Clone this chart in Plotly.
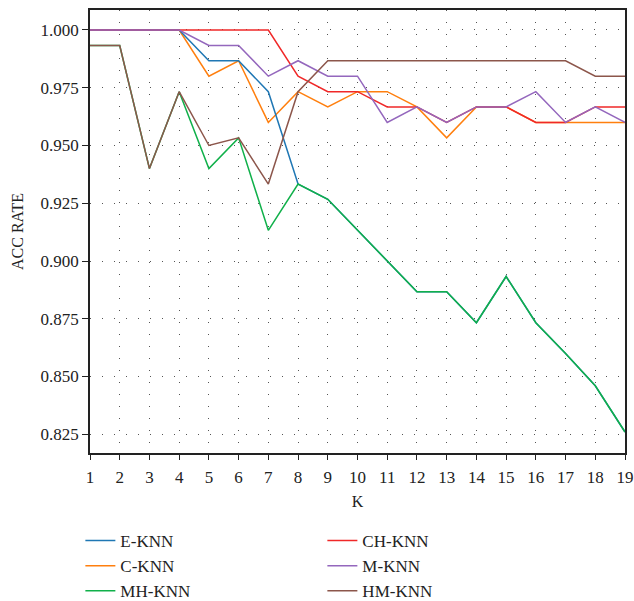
import plotly.graph_objects as go

# K values on the x axis
k_values = list(range(1, 20))

# Accuracy of each KNN variant for K = 1..19
e_knn = [1.0, 1.0, 1.0, 1.0, 0.9867, 0.9867, 0.9733, 0.9333, 0.9267, 0.9133,
         0.9, 0.8867, 0.8867, 0.8733, 0.8933, 0.8733, 0.86, 0.846, 0.826]
ch_knn = [1.0, 1.0, 1.0, 1.0, 1.0, 1.0, 1.0, 0.98, 0.9733, 0.9733,
          0.9667, 0.9667, 0.96, 0.9667, 0.9667, 0.96, 0.96, 0.9667, 0.9667]
c_knn = [1.0, 1.0, 1.0, 1.0, 0.98, 0.9867, 0.96, 0.9733, 0.9667, 0.9733,
         0.9733, 0.9667, 0.9533, 0.9667, 0.9667, 0.96, 0.96, 0.96, 0.96]
m_knn = [1.0, 1.0, 1.0, 1.0, 0.9933, 0.9933, 0.98, 0.9867, 0.98, 0.98,
         0.96, 0.9667, 0.96, 0.9667, 0.9667, 0.9733, 0.96, 0.9667, 0.96]
mh_knn = [0.9933, 0.9933, 0.94, 0.9733, 0.94, 0.9533, 0.9133, 0.9333, 0.9267, 0.9133,
          0.9, 0.8867, 0.8867, 0.8733, 0.8933, 0.8733, 0.86, 0.846, 0.826]
hm_knn = [0.9933, 0.9933, 0.94, 0.9733, 0.95, 0.9533, 0.9333, 0.9733, 0.9867, 0.9867,
          0.9867, 0.9867, 0.9867, 0.9867, 0.9867, 0.9867, 0.9867, 0.98, 0.98]

y_ticks = [0.825, 0.850, 0.875, 0.900, 0.925, 0.950, 0.975, 1.000]

# (name, values, colour, legend position); listed in drawing order
series = [
    ("C-KNN", c_knn, "#ff7f0e", 3),
    ("E-KNN", e_knn, "#1f77b4", 1),
    ("MH-KNN", mh_knn, "#10b04a", 5),
    ("CH-KNN", ch_knn, "#f02828", 2),
    ("M-KNN", m_knn, "#9467bd", 4),
    ("HM-KNN", hm_knn, "#8c564b", 6),
]

serif = "Liberation Serif, Times New Roman, serif"

fig = go.Figure()
for name, vals, color, rank in series:
    fig.add_trace(go.Scatter(
        x=k_values, y=vals, mode="lines", name=name,
        line=dict(color=color, width=1.5),
        legendrank=rank,
    ))

fig.update_layout(
    width=634, height=601,
    margin=dict(l=90, r=8.5, t=10, b=147.5, autoexpand=False),
    paper_bgcolor="white", plot_bgcolor="white",
    font=dict(family=serif, size=17, color="#222"),
    showlegend=True,
    legend=dict(
        orientation="h", x=-0.018, y=-0.158, xanchor="left", yanchor="top",
        entrywidth=197, entrywidthmode="pixels",
        font=dict(family=serif, size=17, color="#222"),
        bgcolor="rgba(0,0,0,0)",
    ),
    xaxis=dict(
        range=[1, 19], tickmode="array", tickvals=k_values, tickangle=0,
        ticks="outside", ticklen=5, tickcolor="#222", tickwidth=1.2,
        ticklabelstandoff=3,
        showline=True, linecolor="#222", linewidth=1.5, mirror=True,
        showgrid=True, gridcolor="#555", gridwidth=1, griddash="1px,11px",
        zeroline=False,
        title=dict(text="K", font=dict(family=serif, size=16), standoff=10),
    ),
    yaxis=dict(
        range=[0.8169, 1.00865], tickmode="array", tickvals=y_ticks,
        tickformat=".3f",
        ticks="outside", ticklen=6, tickcolor="#222", tickwidth=1.2,
        showline=True, linecolor="#222", linewidth=1.5, mirror=True,
        showgrid=True, gridcolor="#555", gridwidth=1, griddash="1px,11px",
        zeroline=False,
        title=dict(text="ACC RATE", font=dict(family=serif, size=16), standoff=13),
    ),
)

fig.write_html("out.html")
